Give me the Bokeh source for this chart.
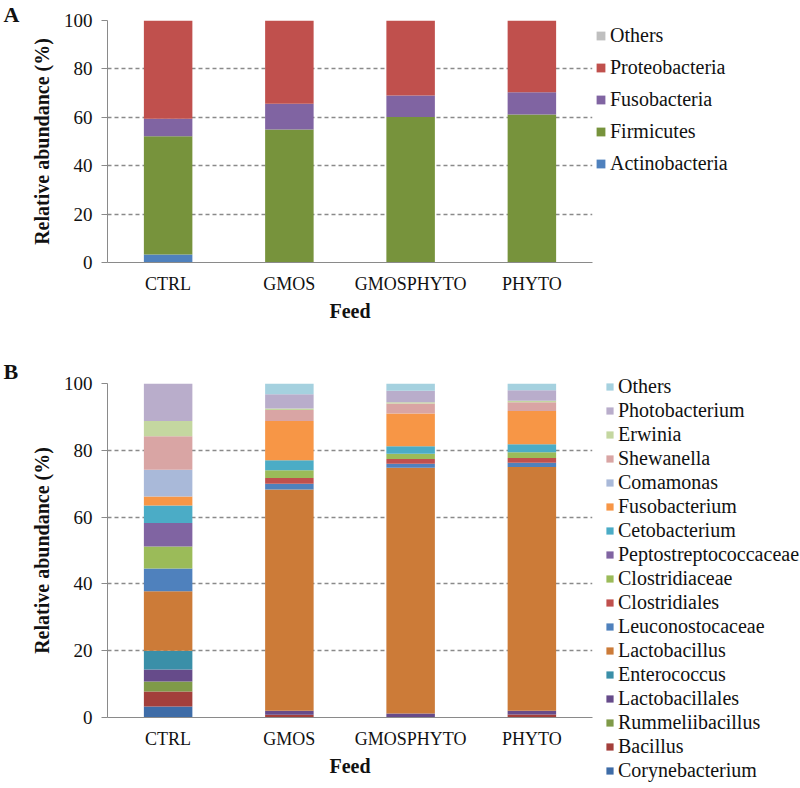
from bokeh.plotting import figure
from bokeh.models import ColumnDataSource, FactorRange, Legend, LegendItem, Label, FixedTicker
from bokeh.layouts import column
from bokeh.embed import file_html
from bokeh.resources import INLINE

feeds = ["CTRL", "GMOS", "GMOSPHYTO", "PHYTO"]

# Panel A: phyla (bottom -> top)
phyla = ["Actinobacteria", "Firmicutes", "Fusobacteria", "Proteobacteria", "Others"]
actinobacteria = [3.3, 0.0, 0.0, 0.0]
firmicutes = [48.9, 55.0, 60.1, 61.2]
fusobacteria = [7.2, 10.6, 8.9, 9.2]
proteobacteria = [40.6, 34.4, 31.0, 29.6]
others_a = [0.0, 0.0, 0.0, 0.0]
phyla_colors = ["#4F81BD", "#77933C", "#8064A2", "#C0504D", "#BFBFBF"]

# Panel B: genera (bottom -> top)
genera = ["Corynebacterium", "Bacillus", "Rummeliibacillus", "Lactobacillales",
          "Enterococcus", "Lactobacillus", "Leuconostocaceae", "Clostridiales",
          "Clostridiaceae", "Peptostreptococcaceae", "Cetobacterium", "Fusobacterium",
          "Comamonas", "Shewanella", "Erwinia", "Photobacterium", "Others"]
corynebacterium = [3.3, 0.0, 0.0, 0.0]
bacillus = [4.5, 0.8, 0.0, 0.9]
rummeliibacillus = [3.0, 0.0, 0.0, 0.0]
lactobacillales = [3.6, 1.2, 1.2, 1.1]
enterococcus = [5.6, 0.0, 0.0, 0.0]
lactobacillus = [17.8, 66.3, 73.6, 73.0]
leuconostocaceae = [6.8, 1.7, 1.2, 1.3]
clostridiales = [0.0, 1.7, 1.4, 1.4]
clostridiaceae = [6.6, 2.3, 1.6, 1.7]
peptostreptococcaceae = [7.0, 0.0, 0.0, 0.0]
cetobacterium = [5.3, 3.0, 2.2, 2.4]
fusobacterium = [2.7, 11.8, 9.8, 10.0]
comamonas = [8.0, 0.0, 0.0, 0.0]
shewanella = [10.0, 3.3, 3.0, 2.6]
erwinia = [4.6, 0.4, 0.4, 0.4]
photobacterium = [11.2, 4.3, 3.4, 3.2]
others_b = [0.0, 3.2, 2.2, 2.0]
genera_colors = ["#3E6CA7", "#A33F3B", "#7F9A48", "#664B8A", "#3A8FA8", "#CC7B38",
                 "#4F81BD", "#C0504D", "#9BBB59", "#8064A2", "#4BACC6", "#F79646",
                 "#A9B9D9", "#D9A5A4", "#C4D7A0", "#B9ADCB", "#A5D1DF"]

y_ticks = [0, 20, 40, 60, 80, 100]

FONT = "Liberation Serif"
W = 800
PLOT_W = 485
LEFT = 107
RIGHT = W - LEFT - PLOT_W


def make_fig(height, top, plot_h, series_names, series_values, colors, panel_letter,
             letter_dy, legend_xy, legend_spacing, legend_label_h, legend_glyph):
    bottom = height - top - plot_h
    p = figure(x_range=FactorRange(*feeds, range_padding=0), y_range=(0, 100),
               frame_width=PLOT_W, frame_height=plot_h,
               output_backend="svg", toolbar_location=None,
               min_border_left=LEFT, min_border_right=RIGHT, min_border_top=top,
               min_border_bottom=bottom)
    data = {"feed": feeds}
    for n, v in zip(series_names, series_values):
        data[n] = v
    src = ColumnDataSource(data)
    rs = p.vbar_stack(series_names, x="feed", width=0.4, color=colors, line_color=None,
                      source=src)
    items = [LegendItem(label=n, renderers=[r]) for n, r in zip(series_names, rs)]
    items.reverse()
    leg = Legend(items=items, location=legend_xy, orientation="vertical",
                 label_text_font=FONT, label_text_font_size="20px", label_text_color="#111111",
                 glyph_width=legend_glyph, glyph_height=legend_glyph, label_standoff=4,
                 spacing=legend_spacing, label_height=legend_label_h, padding=0, margin=0,
                 border_line_color=None, background_fill_alpha=0)
    p.add_layout(leg, "right")

    p.outline_line_color = None
    p.xgrid.grid_line_color = None
    p.ygrid.grid_line_color = "#8a8a8a"
    p.ygrid.grid_line_dash = "4 3"
    p.ygrid.grid_line_width = 1.3

    p.yaxis.ticker = FixedTicker(ticks=y_ticks)
    p.yaxis.axis_line_color = "#8a8a8a"
    p.yaxis.major_tick_line_color = "#8a8a8a"
    p.yaxis.major_tick_out = 6
    p.yaxis.major_tick_in = 0
    p.yaxis.minor_tick_line_color = None
    p.yaxis.major_label_text_font = FONT
    p.yaxis.major_label_text_font_size = "19px"
    p.yaxis.major_label_text_color = "#111111"
    p.yaxis.major_label_standoff = 9
    p.yaxis.axis_label = "Relative abundance (%)"
    p.yaxis.axis_label_text_font = FONT
    p.yaxis.axis_label_text_font_style = "bold"
    p.yaxis.axis_label_text_font_size = "20px"
    p.yaxis.axis_label_text_color = "#111111"
    p.yaxis.axis_label_standoff = 8

    p.xaxis.axis_line_color = "#8a8a8a"
    p.xaxis.major_tick_line_color = None
    p.xaxis.major_tick_out = 0
    p.xaxis.major_tick_in = 0
    p.xaxis.minor_tick_line_color = None
    p.xaxis.major_label_text_font = FONT
    p.xaxis.major_label_text_font_size = "18px"
    p.xaxis.major_label_text_color = "#111111"
    p.xaxis.major_label_standoff = 11
    p.xaxis.axis_label = "Feed"
    p.xaxis.axis_label_text_font = FONT
    p.xaxis.axis_label_text_font_style = "bold"
    p.xaxis.axis_label_text_font_size = "20px"
    p.xaxis.axis_label_text_color = "#111111"
    p.xaxis.axis_label_standoff = 3

    p.add_layout(Label(x=0, y=100, x_offset=-104, y_offset=letter_dy, text=panel_letter,
                       text_font=FONT, text_font_style="bold", text_font_size="22px",
                       text_color="#111111", text_baseline="top"), "left")
    return p


# Panel A: frame top page 20, bottom 262
pA = make_fig(345, 20, 242, phyla,
              [actinobacteria, firmicutes, fusobacteria, proteobacteria, others_a],
              phyla_colors, "A", 19, (3, 87), 9, 22, 11)

# Panel B: frame top page 383, bottom 717
pB = make_fig(441, 38, 334, genera,
              [corynebacterium, bacillus, rummeliibacillus, lactobacillales, enterococcus,
               lactobacillus, leuconostocaceae, clostridiales, clostridiaceae,
               peptostreptococcaceae, cetobacterium, fusobacterium, comamonas, shewanella,
               erwinia, photobacterium, others_b],
              genera_colors, "B", 25, (13, -65), 1, 22, 9)

layout = column(pA, pB, spacing=0)
open("out.html", "w").write(file_html(layout, INLINE))
